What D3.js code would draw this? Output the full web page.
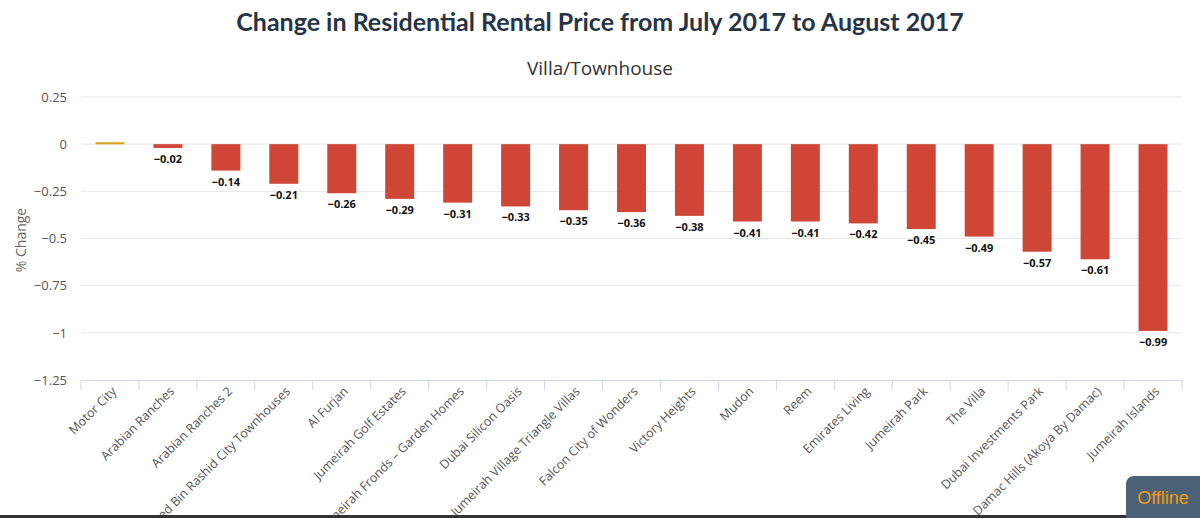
<!DOCTYPE html>
<html>
<head>
<meta charset="utf-8">
<script src="https://cdn.jsdelivr.net/npm/d3@7"></script>
<style>
  body { margin: 0; background: #fff; }
  svg { display: block; font-family: "Open Sans", "DejaVu Sans", sans-serif; }
</style>
</head>
<body>
<div id="chart"></div>
<script>
const categories = ["Motor City", "Arabian Ranches", "Arabian Ranches 2", "Mohammed Bin Rashid City Townhouses",
  "Al Furjan", "Jumeirah Golf Estates", "Jumeirah Fronds – Garden Homes", "Dubai Silicon Oasis",
  "Jumeirah Village Triangle Villas", "Falcon City of Wonders", "Victory Heights", "Mudon", "Reem",
  "Emirates Living", "Jumeirah Park", "The Villa", "Dubai Investments Park", "Damac Hills (Akoya By Damac)",
  "Jumeirah Islands"]
const values = [0.01, -0.02, -0.14, -0.21, -0.26, -0.29, -0.31, -0.33, -0.35, -0.36, -0.38, -0.41, -0.41,
  -0.42, -0.45, -0.49, -0.57, -0.61, -0.99]
const yTicks = [0.25, 0, -0.25, -0.5, -0.75, -1, -1.25]

const W = 1200, H = 518
const MARGIN = { TOP: 97, LEFT: 81, RIGHT: 18, BOTTOM: 138 }

const data = categories.map((c, i) => ({ name: c, value: values[i] }))
const fmt = v => d3.format("")(v).replace("-", "−")

const svg = d3.select("#chart").append("svg")
  .attr("width", W).attr("height", H)

const x = d3.scaleBand()
  .domain(categories)
  .range([MARGIN.LEFT, W - MARGIN.RIGHT])
  .paddingInner(0.5).paddingOuter(0.25)

const y = d3.scaleLinear()
  .domain([-1.25, 0.25])
  .range([H - MARGIN.BOTTOM, MARGIN.TOP])

// title + subtitle
svg.append("text")
  .attr("x", W / 2).attr("y", 31)
  .attr("text-anchor", "middle")
  .attr("font-family", "Lato, 'Open Sans', sans-serif")
  .attr("font-weight", "bold")
  .attr("font-size", 25)
  .attr("fill", "#263445")
  .text("Change in Residential Rental Price from July 2017 to August 2017")

svg.append("text")
  .attr("x", W / 2).attr("y", 75)
  .attr("text-anchor", "middle")
  .attr("font-size", 19)
  .attr("fill", "#333")
  .text("Villa/Townhouse")

// grid
svg.append("g")
  .selectAll("line")
  .data(yTicks.slice(0, -1))
  .join("line")
  .attr("x1", MARGIN.LEFT).attr("x2", W - MARGIN.RIGHT)
  .attr("y1", d => y(d)).attr("y2", d => y(d))
  .attr("stroke", "#e6e6e6")

// y axis labels
const yAxis = svg.append("g")
  .attr("transform", `translate(${MARGIN.LEFT}, 0)`)
  .call(d3.axisLeft(y).tickValues(yTicks).tickSize(0).tickPadding(14).tickFormat(fmt))
  .attr("font-family", "'Open Sans', sans-serif")
yAxis.select(".domain").remove()
yAxis.selectAll("text").attr("font-size", 13).attr("fill", "#555")

svg.append("text")
  .attr("transform", `translate(26, 240) rotate(-90)`)
  .attr("text-anchor", "middle")
  .attr("font-size", 14)
  .attr("fill", "#666")
  .text("% Change")

// x axis
const xAxis = svg.append("g")
  .attr("transform", `translate(0, ${H - MARGIN.BOTTOM})`)
  .call(d3.axisBottom(x).tickSize(10).tickSizeOuter(0))
  .attr("font-family", "'Open Sans', sans-serif")
xAxis.select(".domain").attr("stroke", "#ccd6eb")
xAxis.selectAll(".tick line")
  .attr("stroke", "#ccd6eb")
  .attr("transform", `translate(${-x.step() / 2}, 0)`)
xAxis.append("line")
  .attr("x1", W - MARGIN.RIGHT).attr("x2", W - MARGIN.RIGHT)
  .attr("y1", 0).attr("y2", 10).attr("stroke", "#ccd6eb")
xAxis.selectAll(".tick text")
  .attr("font-size", 12.5)
  .attr("fill", "#555")
  .attr("text-anchor", "end")
  .attr("dy", "0.35em")
  .attr("x", 0).attr("y", 0)
  .attr("transform", "translate(4, 9) rotate(-45)")

// bars
svg.append("g")
  .selectAll("rect")
  .data(data)
  .join("rect")
  .attr("x", d => x(d.name))
  .attr("width", x.bandwidth())
  .attr("y", d => d.value >= 0 ? y(d.value) : y(0))
  .attr("height", d => Math.max(Math.abs(y(d.value) - y(0)), 2))
  .attr("fill", d => d.value >= 0 ? "#d9a21b" : "#cf4636")

// value labels (the positive one is hidden in the original)
svg.append("g")
  .selectAll("text")
  .data(data.filter(d => d.value < 0))
  .join("text")
  .attr("x", d => x(d.name) + x.bandwidth() / 2)
  .attr("y", d => y(d.value) + 15)
  .attr("text-anchor", "middle")
  .attr("font-size", 11)
  .attr("font-weight", "bold")
  .attr("fill", "#111")
  .text(d => d3.format(".2f")(d.value).replace("-", "−"))

// offline badge
svg.append("rect")
  .attr("x", 1126).attr("y", 476).attr("width", 90).attr("height", 60)
  .attr("rx", 8).attr("fill", "#4b6276")
svg.append("text")
  .attr("x", 1163).attr("y", 504)
  .attr("text-anchor", "middle")
  .attr("font-family", "'Liberation Sans', Arial, sans-serif")
  .attr("font-size", 18)
  .attr("fill", "#f29a17")
  .text("Offline")
svg.append("rect")
  .attr("x", 0).attr("y", 515).attr("width", 1126).attr("height", 3)
  .attr("fill", "#333")
</script>
</body>
</html>
